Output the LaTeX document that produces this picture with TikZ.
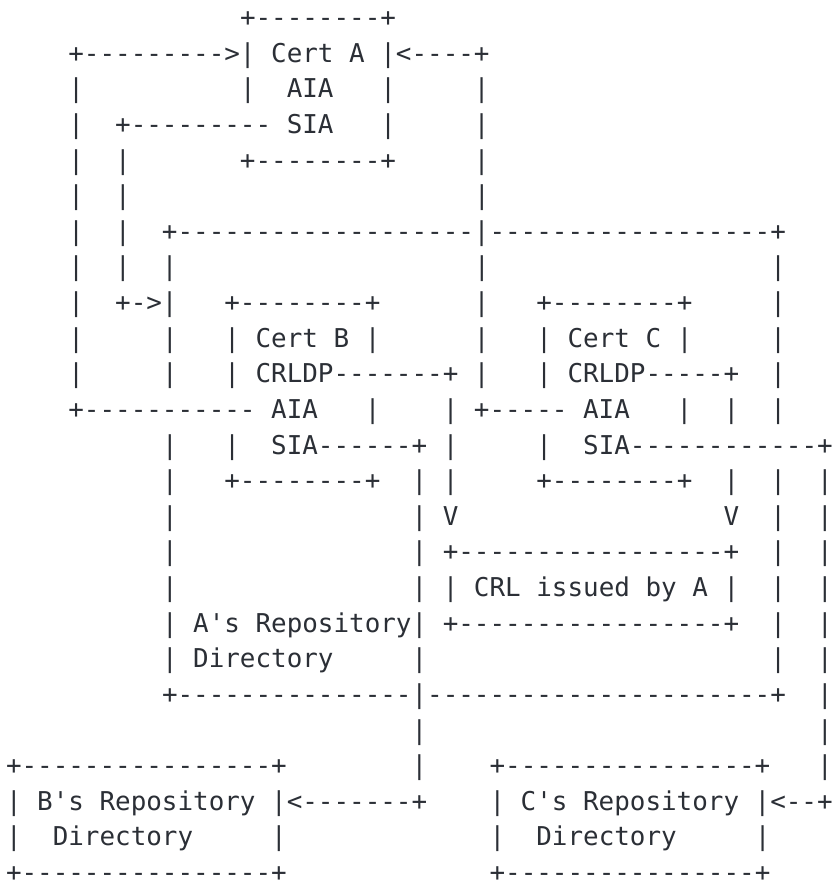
\documentclass[tikz,border=0pt]{standalone}
\usepackage{fontspec}
\setmonofont{DejaVu Sans Mono}
\definecolor{ink}{RGB}{43,47,54}
% one character cell of the monospaced grid
\newlength\cellw
\setlength\cellw{15.6pt}
\newcommand\gp[1]{\hspace*{#1\cellw}}
\begin{document}
\begin{tikzpicture}[x=1pt,y=1pt,
  row/.style={anchor=base west, inner sep=0pt, outer sep=0pt, text=ink,
    text depth=0pt,
    font=\ttfamily\fontsize{25.91pt}{35.65pt}\selectfont\frenchspacing}]
\fill[white] (0,0) rectangle (833,-882);
\useasboundingbox (0,0) rectangle (833,-882);
\def\lx{6}
\def\ly{26.6}
\def\ls{35.62}
\node[row] (r01) at (\lx,{-(\ly+0*\ls)})  {\gp{15}+--------+};
\node[row] (r02) at (\lx,{-(\ly+1*\ls)})  {\gp{4}+--------->|\gp{1}Cert\gp{1}A\gp{1}|<----+};
\node[row] (r03) at (\lx,{-(\ly+2*\ls)})  {\gp{4}|\gp{10}|\gp{2}AIA\gp{3}|\gp{5}|};
\node[row] (r04) at (\lx,{-(\ly+3*\ls)})  {\gp{4}|\gp{2}+---------\gp{1}SIA\gp{3}|\gp{5}|};
\node[row] (r05) at (\lx,{-(\ly+4*\ls)})  {\gp{4}|\gp{2}|\gp{7}+--------+\gp{5}|};
\node[row] (r06) at (\lx,{-(\ly+5*\ls)})  {\gp{4}|\gp{2}|\gp{22}|};
\node[row] (r07) at (\lx,{-(\ly+6*\ls)})  {\gp{4}|\gp{2}|\gp{2}+-------------------|------------------+};
\node[row] (r08) at (\lx,{-(\ly+7*\ls)})  {\gp{4}|\gp{2}|\gp{2}|\gp{19}|\gp{18}|};
\node[row] (r09) at (\lx,{-(\ly+8*\ls)})  {\gp{4}|\gp{2}+->|\gp{3}+--------+\gp{6}|\gp{3}+--------+\gp{5}|};
\node[row] (r10) at (\lx,{-(\ly+9*\ls)})  {\gp{4}|\gp{5}|\gp{3}|\gp{1}Cert\gp{1}B\gp{1}|\gp{6}|\gp{3}|\gp{1}Cert\gp{1}C\gp{1}|\gp{5}|};
\node[row] (r11) at (\lx,{-(\ly+10*\ls)}) {\gp{4}|\gp{5}|\gp{3}|\gp{1}CRLDP-------+\gp{1}|\gp{3}|\gp{1}CRLDP-----+\gp{2}|};
\node[row] (r12) at (\lx,{-(\ly+11*\ls)}) {\gp{4}+-----------\gp{1}AIA\gp{3}|\gp{4}|\gp{1}+-----\gp{1}AIA\gp{3}|\gp{2}|\gp{2}|};
\node[row] (r13) at (\lx,{-(\ly+12*\ls)}) {\gp{10}|\gp{3}|\gp{2}SIA------+\gp{1}|\gp{5}|\gp{2}SIA------------+};
\node[row] (r14) at (\lx,{-(\ly+13*\ls)}) {\gp{10}|\gp{3}+--------+\gp{2}|\gp{1}|\gp{5}+--------+\gp{2}|\gp{2}|\gp{2}|};
\node[row] (r15) at (\lx,{-(\ly+14*\ls)}) {\gp{10}|\gp{15}|\gp{1}V\gp{17}V\gp{2}|\gp{2}|};
\node[row] (r16) at (\lx,{-(\ly+15*\ls)}) {\gp{10}|\gp{15}|\gp{1}+-----------------+\gp{2}|\gp{2}|};
\node[row] (r17) at (\lx,{-(\ly+16*\ls)}) {\gp{10}|\gp{15}|\gp{1}|\gp{1}CRL\gp{1}issued\gp{1}by\gp{1}A\gp{1}|\gp{2}|\gp{2}|};
\node[row] (r18) at (\lx,{-(\ly+17*\ls)}) {\gp{10}|\gp{1}A's\gp{1}Repository|\gp{1}+-----------------+\gp{2}|\gp{2}|};
\node[row] (r19) at (\lx,{-(\ly+18*\ls)}) {\gp{10}|\gp{1}Directory\gp{5}|\gp{22}|\gp{2}|};
\node[row] (r20) at (\lx,{-(\ly+19*\ls)}) {\gp{10}+---------------|----------------------+\gp{2}|};
\node[row] (r21) at (\lx,{-(\ly+20*\ls)}) {\gp{26}|\gp{25}|};
\node[row] (r22) at (\lx,{-(\ly+21*\ls)}) {+----------------+\gp{8}|\gp{4}+----------------+\gp{3}|};
\node[row] (r23) at (\lx,{-(\ly+22*\ls)}) {|\gp{1}B's\gp{1}Repository\gp{1}|<-------+\gp{4}|\gp{1}C's\gp{1}Repository\gp{1}|<--+};
\node[row] (r24) at (\lx,{-(\ly+23*\ls)}) {|\gp{2}Directory\gp{5}|\gp{13}|\gp{2}Directory\gp{5}|};
\node[row] (r25) at (\lx,{-(\ly+24*\ls)}) {+----------------+\gp{13}+----------------+};
\end{tikzpicture}
\end{document}
